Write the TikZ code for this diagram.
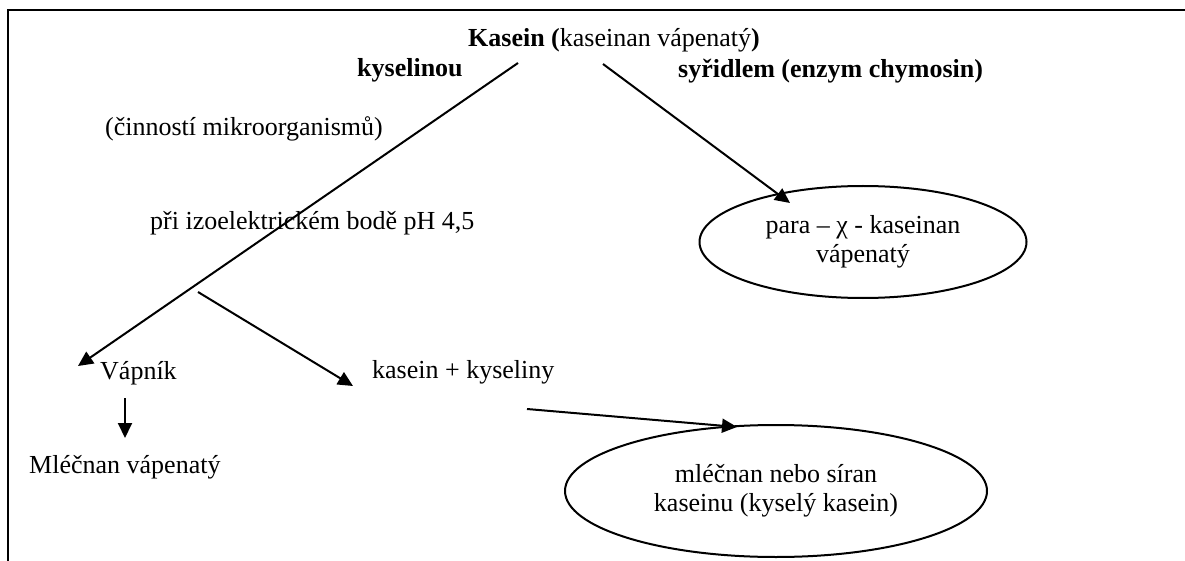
\documentclass[tikz,border=0pt]{standalone}
\usepackage{fontspec}
\setmainfont{Liberation Serif}
\usetikzlibrary{arrows.meta,shapes.geometric}

\tikzset{
  txt/.style={inner sep=0pt, font=\fontsize{26}{29}\selectfont},
  lbl/.style={txt, anchor=base west},
  ctr/.style={txt, anchor=base},
  oval/.style={draw, line width=2pt, ellipse, inner sep=0pt, align=center,
               font=\fontsize{26}{29}\selectfont},
  arr/.style={line width=2pt, -{Triangle[length=15pt,width=14pt]}},
  frame/.style={line width=2.4pt}
}

\begin{document}
\begin{tikzpicture}[x=1pt, y=-1pt]
  \useasboundingbox (0,0) rectangle (1185,561);

  % open frame: top and left edges only
  \coordinate (fbl) at (8,561);
  \coordinate (ftl) at (8,10);
  \coordinate (ftr) at (1185,10);
  \draw[frame] (fbl) -- (ftl) -- (ftr);

  % labels
  \node[ctr] (kasein) at (614,47) {\textbf{Kasein (}kaseinan vápenatý\textbf{)}};
  \node[lbl] (kys) at (357,77) {\textbf{kyselinou}};
  \node[lbl] (syr) at (678,78) {\textbf{syřidlem (enzym chymosin)}};
  \node[lbl] (mikro) at (105,136) {(činností mikroorganismů)};
  \node[lbl] (izo) at (150,230) {při izoelektrickém bodě pH 4,5};
  \node[lbl] (vapnik) at (100,379) {Vápník};
  \node[lbl] (mlecnan) at (29,473) {Mléčnan vápenatý};
  \node[lbl] (kk) at (372,378) {kasein + kyseliny};

  % product ovals
  \node[oval, minimum width=327pt, minimum height=112pt] (para) at (863,242)
    {para – χ - kaseinan\\vápenatý};
  \node[oval, minimum width=422pt, minimum height=132pt] (kysely) at (776,491)
    {mléčnan nebo síran\\kaseinu (kyselý kasein)};

  % connector end points
  \coordinate (s1) at (518,63);
  \coordinate (e1) at (78,366);
  \coordinate (s2) at (603,64);
  \coordinate (e2) at (790,203);
  \coordinate (s3) at (198,292);
  \coordinate (e3) at (353,386);
  \coordinate (s4) at (125,398);
  \coordinate (e4) at (125,438);
  \coordinate (s5) at (527,409);
  \coordinate (e5) at (737,427);

  \draw[arr] (s1) -- (e1);
  \draw[arr] (s2) -- (e2);
  \draw[arr] (s3) -- (e3);
  \draw[arr] (s4) -- (e4);
  \draw[arr] (s5) -- (e5);
\end{tikzpicture}
\end{document}
